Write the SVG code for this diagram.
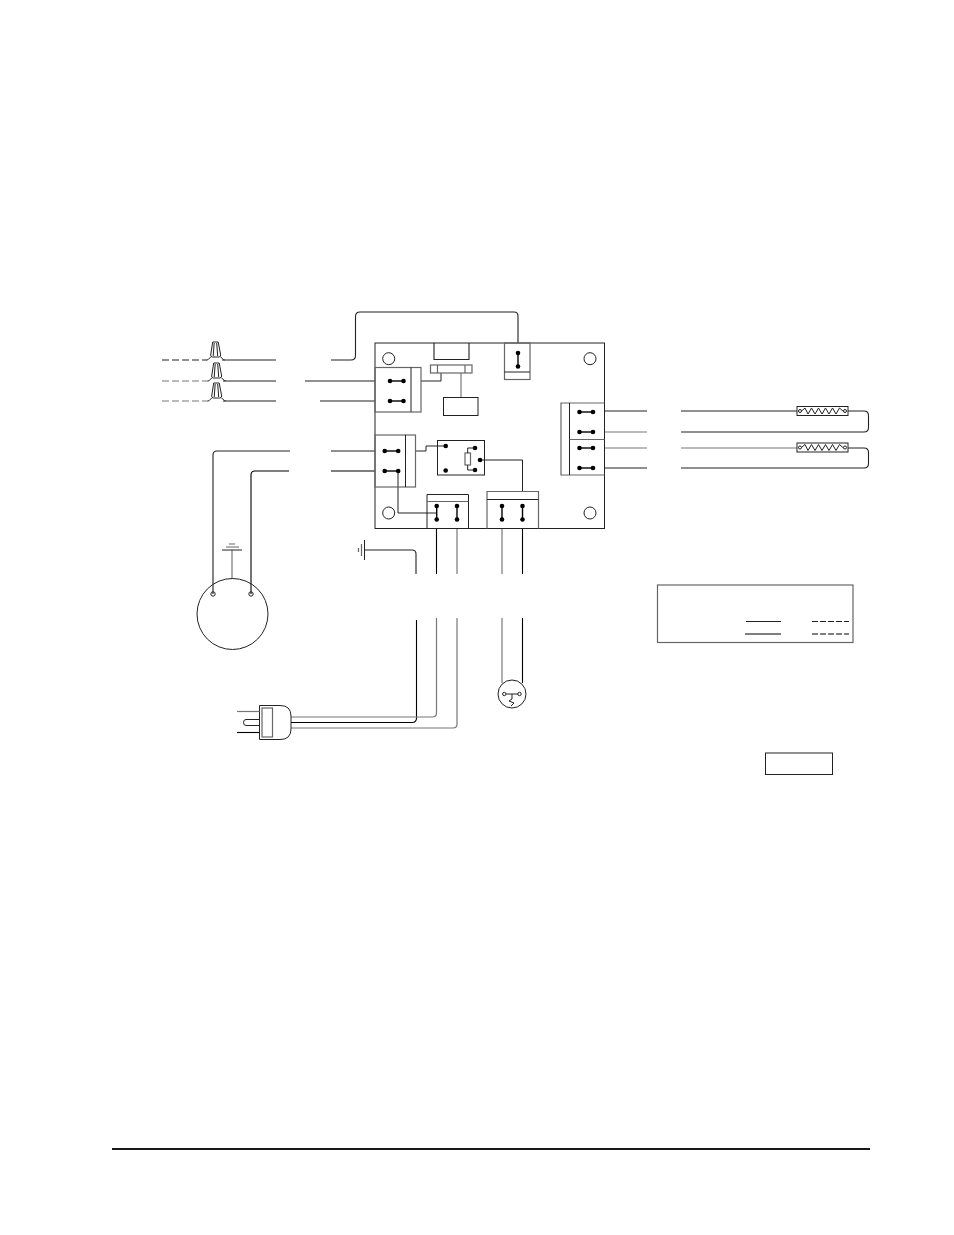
<svg xmlns="http://www.w3.org/2000/svg" width="954" height="1235" viewBox="0 0 954 1235">
<style>
.s{fill:none;stroke:#222;stroke-width:1}
.g{fill:none;stroke:#666;stroke-width:1.2}
.w{fill:none;stroke:#222;stroke-width:1.1}
.k{fill:none;stroke:#000;stroke-width:1.1}
.m{fill:none;stroke:#777;stroke-width:1.2}
.d{stroke-dasharray:7 3}
.t{fill:#000;stroke:none}
.j{fill:none;stroke:#000;stroke-width:1.4}
</style>
<defs>
<g id="nut"><path class="s" d="M-3 -18 H2.500 L5 -5 Q5 -3 3 -3 H-3.500 Q-5 -3 -5 -5Z M-1.500 -17 L-2.500 -4 M1 -17 L2 -4 M-5 -3 L-7 -1 Q-7.500 0 -9 0 M5 -3 L7 -1 Q8 0 9 0"/></g>
<g id="pair"><circle class="t" cx="0" cy="0" r="2.300"/><circle class="t" cx="13.500" cy="0" r="2.300"/><path class="j" d="M0 0H13.500"/></g>
<g id="vpair"><circle class="t" cx="0" cy="0" r="2.300"/><circle class="t" cx="0" cy="13.500" r="2.300"/><path class="j" d="M0 0V13.500"/></g>
<g id="heater"><rect class="s" x="0" y="0" width="51" height="9"/><circle class="s" cx="3" cy="4.500" r="1.500"/><circle class="s" cx="48" cy="4.500" r="1.500"/><path class="s" d="M4.500 4.500 L8 1.500 L11 7.500 L14.500 1.500 L18 7.500 L21.500 1.500 L25 7.500 L28.500 1.500 L32 7.500 L35.500 1.500 L39 7.500 L42.500 1.500 L46.500 5"/></g>
</defs>
<g id="connectors">
<path class="w d" d="M162 360H207"/><path class="m d" d="M162 381H208"/><path class="m d" d="M162 401H208"/>
<path class="w" d="M222 360H276"/><path class="w" d="M223 381H276"/><path class="w" d="M223 401H276"/>
<path class="w" d="M331 360H351Q355.500 360 355.500 355.500V316.500Q355.500 312 360 312H514Q518 312 518 316V343"/>
<path class="w" d="M305 381H375"/><path class="w" d="M320 401H375"/>
<path class="w" d="M290 451H217Q213 451 213 455V594"/>
<path class="k" d="M289 471H255Q251 471 251 475V594"/>
<path class="w" d="M331 451H375"/><path class="k" d="M331 471H375"/>
<path class="w" d="M364.500 550H412Q416 550 416 554V574"/>
<path class="k" d="M436.500 528V574"/><path class="m" d="M457 528V574"/><path class="m" d="M502 528V574"/><path class="k" d="M522.500 528V574"/>
<path class="k" d="M416.500 620V718Q416.500 722.500 412 722.500H291"/>
<path class="m" d="M436.500 618V713Q436.500 717 432 717H291" stroke-width="1.5"/>
<path class="m" d="M457 618V724Q457 728 453 728H291"/>
<path class="m" d="M502 618V683"/><path class="k" d="M522.500 618V683"/>
<path class="w" d="M604.500 411H647"/><path class="m" d="M604.500 432H647"/><path class="m" d="M604.500 448H647"/><path class="w" d="M604.500 468H647"/>
<path class="w" d="M681 411H797"/><path class="w" d="M848 411H864Q868.500 411 868.500 415.500V427.500Q868.500 432 864 432H681"/>
<path class="m" d="M681 448H797"/><path class="w" d="M848 448H864Q868.500 448 868.500 452.500V463.500Q868.500 468 864 468H681"/>
<path class="s" d="M421 381H441V373"/>
<path class="s" d="M415.500 451H426V446H445.700"/>
<path class="s" d="M398 471V513H436.700"/>
<path class="s" d="M480 460H522.500V491.500"/>
<path class="m" d="M461 373V397.500"/>
<path class="m" d="M232 550V579" stroke-width="1.500"/>
</g>
<g id="board">
<rect class="s" x="375" y="343" width="229.500" height="185.500"/>
<circle class="s" cx="388.700" cy="358.700" r="6"/><circle class="s" cx="590" cy="358.700" r="6"/><circle class="s" cx="388.700" cy="513" r="6"/><circle class="s" cx="590" cy="513" r="6"/>
</g>
<g id="top-connector"><path class="w" d="M434 343V359.500H469V343"/></g>
<g id="bar"><rect class="g" x="430.500" y="365" width="41.500" height="8"/><path class="g" d="M437.500 365V373M465 365V373"/></g>
<g id="box-small"><rect class="s" x="443.500" y="397.500" width="34.500" height="18"/></g>
<g id="conn-top"><rect class="g" x="504.500" y="343" width="25.500" height="36.500"/><path class="s" d="M504.500 372H530"/><use href="#vpair" x="518" y="353"/></g>
<g id="conn-left-1"><rect class="g" x="375" y="367.500" width="46" height="44.500"/><path class="s" d="M411 367.500V412"/><use href="#pair" x="390" y="381"/><use href="#pair" x="390" y="401"/></g>
<g id="conn-left-2"><rect class="g" x="375" y="435" width="40.500" height="52"/><path class="s" d="M405.500 435V487"/><use href="#pair" x="384.700" y="451"/><use href="#pair" x="384.700" y="471"/></g>
<g id="relay"><rect class="s" x="437.500" y="440.500" width="47" height="34.500"/><circle class="t" cx="445.700" cy="446" r="2.300"/><circle class="t" cx="445.700" cy="470.500" r="2.300"/><circle class="t" cx="475" cy="448" r="2.300"/><circle class="t" cx="480" cy="460" r="2.300"/><circle class="t" cx="475" cy="470" r="2.300"/><rect class="g" x="465" y="453" width="5.500" height="12"/><path class="s" d="M467.700 453V448H475M467.700 465V470H475"/></g>
<g id="conn-bottom-1"><path class="s" d="M427 528.500V494.500H468.500V528.500"/><path class="g" d="M427 501.500H468.500"/><use href="#vpair" x="436.700" y="506"/><use href="#vpair" x="457" y="506"/></g>
<g id="conn-bottom-2"><path class="g" d="M487 528.500V491.500H538.500V528.500"/><path class="w" d="M487 499.500H538.500"/><use href="#vpair" x="502" y="506"/><use href="#vpair" x="522.500" y="506"/></g>
<g id="conn-right"><path class="g" d="M604.500 403H561V475H604.500"/><path class="s" d="M569.500 403V475"/><path class="g" d="M569.500 439.500H604.500"/><use href="#pair" x="579.500" y="412"/><use href="#pair" x="579.500" y="432"/><use href="#pair" x="579.500" y="448"/><use href="#pair" x="579.500" y="468"/></g>
<g id="wire-nuts"><use href="#nut" x="215.700" y="360"/><use href="#nut" x="216.700" y="381"/><use href="#nut" x="216.700" y="401"/></g>
<g id="heater-1"><use href="#heater" x="797" y="406.500"/></g>
<g id="heater-2"><use href="#heater" x="797" y="443"/></g>
<g id="motor"><circle class="s" cx="232.500" cy="614" r="35.500"/><circle class="s" cx="213" cy="594" r="2.200"/><circle class="s" cx="251" cy="594" r="2.200"/><path class="s" d="M222 550H242"/><path class="g" d="M226 547H239M229 544H235"/></g>
<g id="ground"><path class="s" d="M364.500 540V560"/><path class="g" d="M361.500 544V556M358.500 548V552"/></g>
<g id="receptacle"><circle class="s" cx="512" cy="694" r="14"/><circle class="s" cx="504.300" cy="694" r="1.700"/><circle class="s" cx="519.500" cy="694" r="1.700"/><path class="s" d="M506 694H518M512 694V699L509 701L514 703L511 706"/></g>
<g id="plug"><path class="s" d="M259.500 705.500H280Q291 705.500 291 716V729Q291 739.500 280 739.500H259.500Z"/><rect class="g" x="262" y="708" width="10.500" height="29"/><path class="m" d="M259.500 711.500H237" stroke-width="1.800"/><path class="k" d="M259.500 732.500H237" stroke-width="1.500"/><path class="s" d="M259.500 719.500H246Q243.500 719.500 243.500 722.500Q243.500 725.500 246 725.500H259.500"/></g>
<g id="legend"><rect class="g" x="657.500" y="585" width="195.500" height="57.500"/><path class="w" d="M746 621.500H781"/><path class="k" d="M745 634H781"/><path class="w" d="M812 621.500H849" stroke-dasharray="6 2"/><path class="k" d="M812 634H849" stroke-dasharray="6 2"/></g>
<g id="note-box"><rect class="s" x="765.500" y="753" width="67" height="21.500"/></g>
<path id="footer-rule" d="M112 1149H870" fill="none" stroke="#1a1a1a" stroke-width="2"/>
</svg>
